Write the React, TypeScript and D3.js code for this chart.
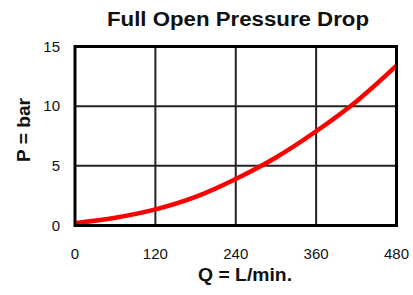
import React from "react";
import * as d3 from "d3";

const flowQ = [0, 60, 120, 180, 240, 300, 360, 420, 480];
const pressure = [0.2, 0.65, 1.35, 2.4, 3.9, 5.7, 7.9, 10.4, 13.4];
const xTicks = [0, 120, 240, 360, 480];
const yTicks = [0, 5, 10, 15];

const W = 413;
const H = 295;

export default function App() {
  const x = d3.scaleLinear().domain([0, 480]).range([75, 396.5]);
  const y = d3.scaleLinear().domain([0, 15]).range([225.5, 46.5]);
  const pts: [number, number][] = flowQ.map((q, i) => [q, pressure[i]]);
  const line = d3
    .line<[number, number]>()
    .x((d) => x(d[0]))
    .y((d) => y(d[1]))
    .curve(d3.curveMonotoneX);

  return (
    <svg
      width={W}
      height={H}
      style={{ position: "absolute", left: 0, top: 0, background: "#fff" }}
      fontFamily="Arial, 'Liberation Sans', sans-serif"
    >
      <rect x={0} y={0} width={W} height={H} fill="#fff" />
      <text
        x={238}
        y={26}
        textAnchor="middle"
        fontSize={20}
        fontWeight="bold"
        textLength={262}
        lengthAdjust="spacingAndGlyphs"
        fill="#111"
      >
        Full Open Pressure Drop
      </text>
      {xTicks.slice(1, -1).map((t) => (
        <line key={"gx" + t} x1={x(t)} x2={x(t)} y1={y(15)} y2={y(0)} stroke="#222" strokeWidth={2} />
      ))}
      {yTicks.slice(1, -1).map((t) => (
        <line key={"gy" + t} x1={x(0)} x2={x(480)} y1={y(t)} y2={y(t)} stroke="#222" strokeWidth={2} />
      ))}
      <path d={line(pts) || ""} fill="none" stroke="#ff0000" strokeWidth={4.5} strokeLinecap="butt" />
      <rect
        x={x(0)}
        y={y(15)}
        width={x(480) - x(0)}
        height={y(0) - y(15)}
        fill="none"
        stroke="#000"
        strokeWidth={3}
      />
      {yTicks.map((t) => (
        <text key={"ly" + t} x={60} y={y(t) + 5} textAnchor="end" fontSize={15} fill="#111">
          {t}
        </text>
      ))}
      {xTicks.map((t) => (
        <text key={"lx" + t} x={x(t)} y={259} textAnchor="middle" fontSize={15} fill="#111">
          {t}
        </text>
      ))}
      <text
        x={245}
        y={281}
        textAnchor="middle"
        fontSize={19}
        fontWeight="bold"
        textLength={94}
        lengthAdjust="spacingAndGlyphs"
        fill="#111"
      >
        Q = L/min.
      </text>
      <text
        transform="translate(30,130) rotate(-90)"
        textAnchor="middle"
        fontSize={19}
        fontWeight="bold"
        textLength={64}
        lengthAdjust="spacingAndGlyphs"
        fill="#111"
      >
        P = bar
      </text>
    </svg>
  );
}
